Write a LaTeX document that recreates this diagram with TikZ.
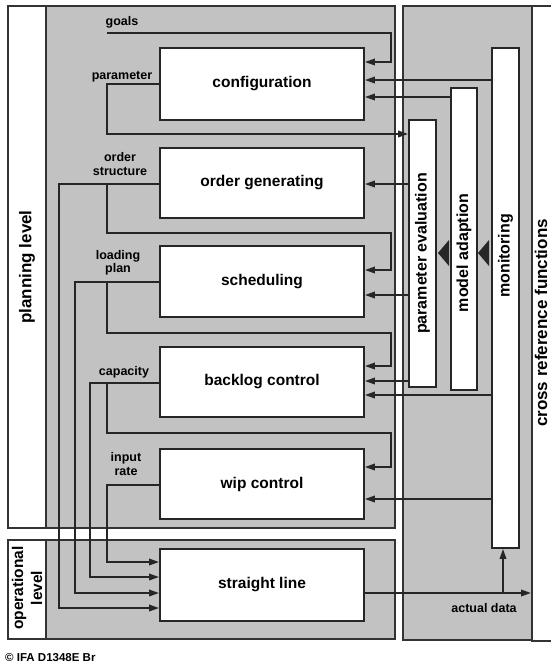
\documentclass[tikz,border=0pt]{standalone}
\usepackage{fontspec}
\setmainfont{Liberation Sans}
\usetikzlibrary{arrows.meta}
\begin{document}
\begin{tikzpicture}[x=1pt,y=-1pt,
  panel/.style={draw=black!80, line width=1.2pt, fill=black!24},
  wpanel/.style={draw=black!80, line width=1.2pt, fill=white},
  box/.style={draw=black!85, line width=1.8pt, fill=white, inner sep=0pt,
    font=\fontsize{15.5}{17}\selectfont\bfseries},
  vbox/.style={draw=black!85, line width=1.8pt, fill=white, inner sep=0pt},
  side/.style={font=\fontsize{17}{19}\selectfont\bfseries, align=center, inner sep=0pt, rotate=90},
  vlab/.style={font=\fontsize{16}{18}\selectfont\bfseries, inner sep=0pt, rotate=90},
  lab/.style={font=\fontsize{12.5}{13.5}\selectfont\bfseries, align=center, inner sep=0pt},
  wire/.style={draw=black!85, line width=1.8pt},
  arr/.style={wire, -{Triangle[length=10pt,width=6.5pt]}},
  tri/.style={fill=black!85}
]
\useasboundingbox (0,0) rectangle (551,664);
% panels
\draw[panel] (46,6) rectangle (395,528);
\draw[wpanel] (8,6) rectangle (46,528);
\draw[panel] (46,540) rectangle (395,639);
\draw[wpanel] (8,540) rectangle (46,639);
\draw[panel] (403,6) rectangle (532,640);
\fill[white] (532,6) rectangle (551,641);
\draw[draw=black!80, line width=1.2pt] (552,6) -- (532,6) -- (532,641) -- (552,641);
% side labels
\node[side] (plan) at (27,267) {planning level};
\node[side, font=\fontsize{15.5}{19}\selectfont\bfseries] (oper) at (27,588) {operational\\level};
\node[side] (cross) at (541,323) {cross reference functions};
% boxes
\node[box, minimum width=204pt, minimum height=72pt] (conf) at (262,84) {configuration};
\node[box, minimum width=204pt, minimum height=70pt] (ordg) at (262,183) {order generating};
\node[box, minimum width=204pt, minimum height=71pt] (sched) at (262,281.5) {scheduling};
\node[box, minimum width=204pt, minimum height=70pt] (back) at (262,382) {backlog control};
\node[box, minimum width=204pt, minimum height=70pt] (wip) at (262,484) {wip control};
\node[box, minimum width=204pt, minimum height=72pt] (sline) at (262,585) {straight line};
% vertical boxes
\node[vbox, minimum width=27pt, minimum height=267pt] (peval) at (422.5,253.5) {};
\node[vbox, minimum width=26pt, minimum height=302pt] (madapt) at (464,239) {};
\node[vbox, minimum width=27pt, minimum height=500pt] (mon) at (505.5,298) {};
\node[vlab] (pevalt) at (422.5,253.5) {parameter evaluation};
\node[vlab] (madaptt) at (464,253) {model adaption};
\node[vlab] (mont) at (505.5,256) {monitoring};
% triangles
\fill[tri] (438,253) -- (449,240) -- (449,266) -- cycle;
\fill[tri] (478,253) -- (489,240) -- (489,266) -- cycle;
% coordinates
\coordinate (g0) at (107,33);
\coordinate (g1) at (391,33);
\coordinate (p1) at (107,134);
\coordinate (os1) at (59,608);
\coordinate (os2) at (107,184);
\coordinate (os3) at (391,233);
\coordinate (lp1) at (75,593);
\coordinate (lp2) at (107,282);
\coordinate (lp3) at (391,333);
\coordinate (ca1) at (90,577);
\coordinate (ca2) at (107,383);
\coordinate (ca3) at (391,433);
\coordinate (ir1) at (107,562);
\coordinate (ad1) at (531,593);
\coordinate (ad2) at (503,593);
% wires
\draw[arr] (g0) -- (g1) |- (conf.east |- 0,62);
\draw[arr] (mon.west |- 0,80) -- (conf.east |- 0,80);
\draw[arr] (madapt.west |- 0,97) -- (conf.east |- 0,97);
\draw[arr] (conf.west |- 0,84) -| (p1) -- (peval.west |- 0,134);
\draw[arr] (peval.west |- 0,184) -- (ordg.east |- 0,184);
\draw[arr] (ordg.west |- 0,184) -| (os1) -- (sline.west |- 0,608);
\draw[arr] (os2) |- (os3) |- (sched.east |- 0,270);
\draw[arr] (peval.west |- 0,295) -- (sched.east |- 0,295);
\draw[arr] (sched.west |- 0,282) -| (lp1) -- (sline.west |- 0,593);
\draw[arr] (lp2) |- (lp3) |- (back.east |- 0,366);
\draw[arr] (peval.west |- 0,381) -- (back.east |- 0,381);
\draw[arr] (mon.west |- 0,395) -- (back.east |- 0,395);
\draw[arr] (back.west |- 0,383) -| (ca1) -- (sline.west |- 0,577);
\draw[arr] (ca2) |- (ca3) |- (wip.east |- 0,467);
\draw[arr] (mon.west |- 0,499) -- (wip.east |- 0,499);
\draw[arr] (wip.west |- 0,485) -| (ir1) -- (sline.west |- 0,562);
\draw[arr] (sline.east |- 0,593) -- (ad1);
\draw[arr] (ad2) -- (mon.south -| ad2);
% labels
\node[lab] (lgoals) at (122,22) {goals};
\node[lab] (lpar) at (122,77) {parameter};
\node[lab] (lord) at (120,164) {order\\structure};
\node[lab] (lload) at (118,263) {loading\\plan};
\node[lab] (lcap) at (124,372) {capacity};
\node[lab] (linp) at (126,464) {input\\rate};
\node[lab] (lact) at (484,608) {actual data};
\node[lab, anchor=west, font=\fontsize{11.5}{12}\selectfont\bfseries] (copy) at (5,658) {© IFA D1348E Br};
\end{tikzpicture}
\end{document}
